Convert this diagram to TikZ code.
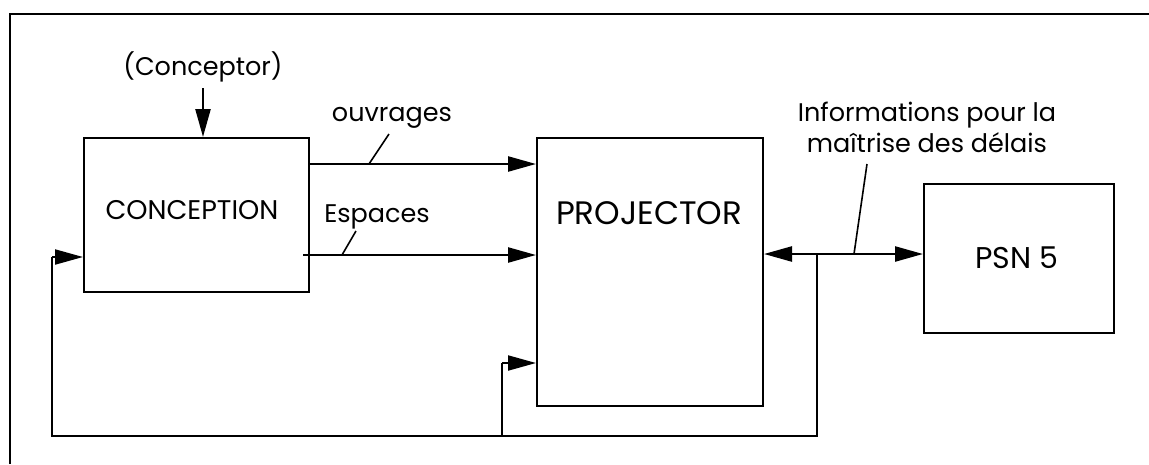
\documentclass[tikz,border=0pt]{standalone}
\usepackage{fontspec}
\setmainfont{Poppins}
\usetikzlibrary{arrows.meta}
\begin{document}
\begin{tikzpicture}[x=1pt,y=-1pt,
  box/.style={draw,line width=2pt,minimum width=#1,inner sep=0pt},
  flow/.style={line width=2.4pt,-{Triangle[length=28pt,width=15pt]}},
  both/.style={line width=2.4pt,{Triangle[length=28pt,width=15pt]}-{Triangle[length=28pt,width=15pt]}},
  fb/.style={line width=2pt},
  leader/.style={line width=1.6pt},
  small/.style={font=\fontsize{25.5}{30}\selectfont,inner sep=0pt},
  big/.style={font=\fontsize{32.5}{38}\selectfont,inner sep=0pt}]
\useasboundingbox (0,0) rectangle (1149,464);
\draw[line width=2.5pt] (10,464) -- (10,14) -- (1149,14);
% boxes
\node[box=225pt,minimum height=154pt] (conc) at (196.5,215) {};
\node[small,font=\fontsize{27}{32}\selectfont] (conctext) at (192,210) {CONCEPTION};
\node[box=226pt,minimum height=268pt] (proj) at (650,272) {};
\node[big] (projtext) at (649,213) {PROJECTOR};
\node[box=190pt,minimum height=149pt] (psn) at (1019,258.5) {};
\node[big,font=\fontsize{30}{36}\selectfont] (psntext) at (1017,258) {PSN 5};
% labels
\node[small] (conceptor) at (203,67) {(Conceptor)};
\node[small] (ouvr) at (392,118) {ouvrages};
\node[small] (esp) at (377,217) {Espaces};
\node[small,align=center,font=\fontsize{25.5}{31}\selectfont] (info) at (927,127) {Informations pour la\\ maîtrise des délais};
% arrows
\coordinate (cin) at (203,88);
\draw[flow] (cin) -- (conc.north -| cin);
\coordinate (o1) at (conc.east |- 0,164);
\draw[flow] (o1) -- (proj.west |- o1);
\coordinate (e1) at (303,255);
\draw[flow] (e1) -- (proj.west |- e1);
\coordinate (b1) at (proj.east |- 0,254);
\draw[both] (b1) -- (psn.west |- b1);
% feedback
\coordinate (tap) at (817,254);
\coordinate (bl) at (52,436);
\coordinate (mid) at (502,436);
\draw[fb] (tap) -- (817,436) -- (bl) -- (52,257);
\draw[flow,line width=2pt] (52,257) -- (conc.west |- 0,257);
\draw[fb] (mid) -- (502,363);
\draw[flow,line width=2pt] (502,363) -- (proj.west |- 0,363);
% leaders
\coordinate (ol) at (389,134);
\coordinate (ot) at (369,164);
\draw[leader] (ol) -- (ot);
\coordinate (el) at (356,231);
\coordinate (et) at (342,255);
\draw[leader] (el) -- (et);
\coordinate (il) at (867,164);
\coordinate (it) at (854,254);
\draw[leader] (il) -- (it);
\end{tikzpicture}
\end{document}
